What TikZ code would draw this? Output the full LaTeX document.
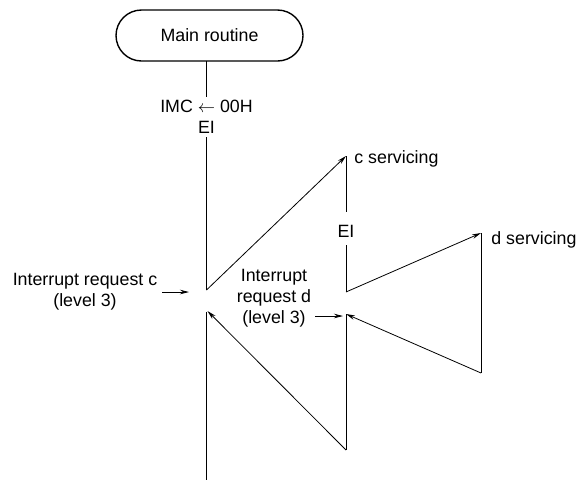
\documentclass[tikz,border=0pt]{standalone}
\usepackage{fontspec}
\setmainfont{Liberation Sans}
\usetikzlibrary{arrows.meta,shapes.misc}
\begin{document}
\begin{tikzpicture}[x=1pt,y=-1pt,
  line width=0.8pt,
  every node/.style={font=\fontsize{17.8}{20.8}\selectfont, inner sep=0pt},
  boxstyle/.style={draw, rounded rectangle, line width=1.4pt, minimum width=187pt, minimum height=51pt},
  arr/.style={-{Stealth[length=9pt,width=4.5pt]}},
  lbl/.style={align=center}]
\useasboundingbox (0,0) rectangle (577,480);
\node[boxstyle] (main) at (209.5,35.5) {Main routine};
\coordinate (m0) at (206.5,61);
\coordinate (m1) at (206.5,97);
\node[lbl] (imc) at (206.5,117) {IMC $\leftarrow$ 00H\\EI};
\coordinate (m2) at (206.5,137);
\coordinate (a1) at (206.5,290);
\coordinate (cs) at (346,156);
\node[anchor=west] (cst) at (354,159) {c servicing};
\coordinate (c1) at (346,212);
\node (ei2) at (346,231) {EI};
\coordinate (c2) at (346,245);
\coordinate (b1) at (346,292);
\coordinate (ds) at (481,233);
\node[anchor=west] (dst) at (491,240) {d servicing};
\coordinate (d1) at (481,373);
\coordinate (b2) at (346,314);
\coordinate (b3) at (346,450);
\coordinate (a2) at (207.5,311);
\coordinate (a3) at (206.5,480);
\coordinate (a4) at (206.5,312);
\node[lbl] (irc) at (85,292) {Interrupt request c\\(level 3)};
\coordinate (ic1) at (162,292);
\coordinate (ic2) at (189,292);
\node[lbl] (ird) at (274,298) {Interrupt\\request d\\(level 3)};
\coordinate (id1) at (315,316);
\coordinate (id2) at (343,316);
% connectors
\draw (m0) -- (m1);
\draw (m2) -- (a1);
\draw[arr] (a1) -- (cs);
\draw (cs) -- (c1);
\draw (c2) -- (b1);
\draw[arr] (b1) -- (ds);
\draw (ds) -- (d1);
\draw[arr] (d1) -- (b2);
\draw (b2) -- (b3);
\draw[arr] (b3) -- (a2);
\draw (a4) -- (a3);
\draw[arr] (ic1) -- (ic2);
\draw[arr] (id1) -- (id2);
\end{tikzpicture}
\end{document}
